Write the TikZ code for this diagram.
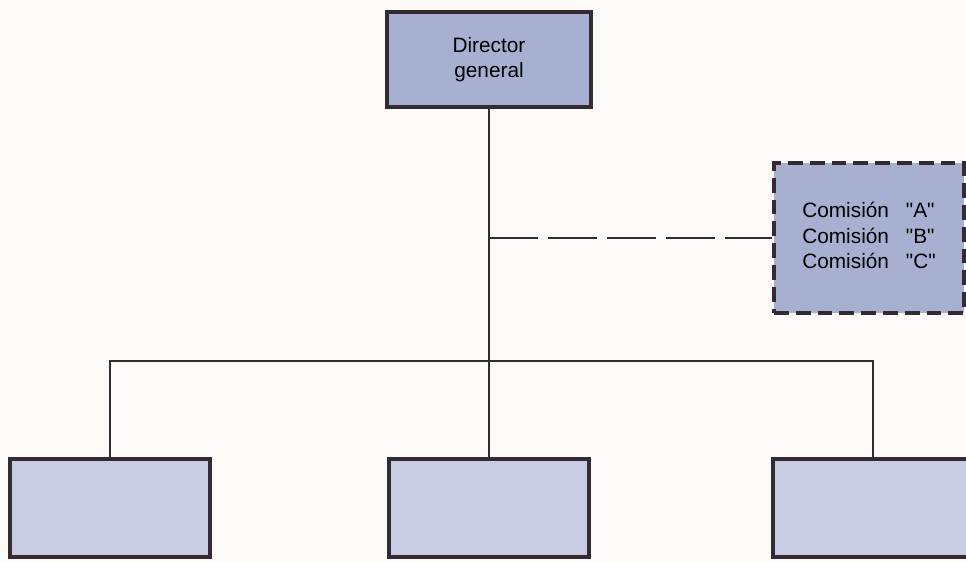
\documentclass[tikz,border=0pt]{standalone}
\usepackage{fontspec}
\setmainfont{Liberation Sans}[Ligatures=TeXOff]

\definecolor{paper}{RGB}{252,250,246}
\definecolor{inkline}{RGB}{52,42,52}
\definecolor{headfill}{RGB}{168,176,210}
\definecolor{unitfill}{RGB}{200,204,226}

\begin{document}
\begin{tikzpicture}
[x=0.025cm, y=-0.025cm, font=\fontsize{14.8pt}{17.8pt}\selectfont,
 unit box/.style={draw=inkline, line width=2.4pt, fill=unitfill, minimum width=5cm, minimum height=2.45cm, inner sep=0pt},
 head box/.style={unit box, fill=headfill, minimum width=5.1cm, minimum height=2.375cm, align=center},
 staff box/.style={unit box, fill=headfill, dash pattern=on 10.5pt off 5pt, minimum width=4.75cm, minimum height=3.75cm},
 org line/.style={draw=inkline, line width=1.2pt},
 staff line/.style={org line, dash pattern=on 35pt off 7pt}]
    \clip (0,0) rectangle (966,561);
    \fill[paper] (0,0) rectangle (966,561);
    \coordinate (bar) at (489,361);
    \node[head box] (dir) at (489,59.5) {Director\\general};
    \node[staff box] (com) at (869,238)
        {\begin{tabular}{@{}l@{\hspace{12pt}}l@{}}
            Comisión & "A"\\
            Comisión & "B"\\
            Comisión & "C"
        \end{tabular}};
    \foreach \n/\x in {1/110, 2/489, 3/873}
        \node[unit box] (unit\n) at (\x,508) {};
    \draw[org line] (dir.south) -- (unit2.north);
    \draw[org line] (unit1.north) |- (unit3.north |- bar) -- (unit3.north);
    \draw[staff line] (dir.south |- com.west) -- (com.west);
\end{tikzpicture}
\end{document}
